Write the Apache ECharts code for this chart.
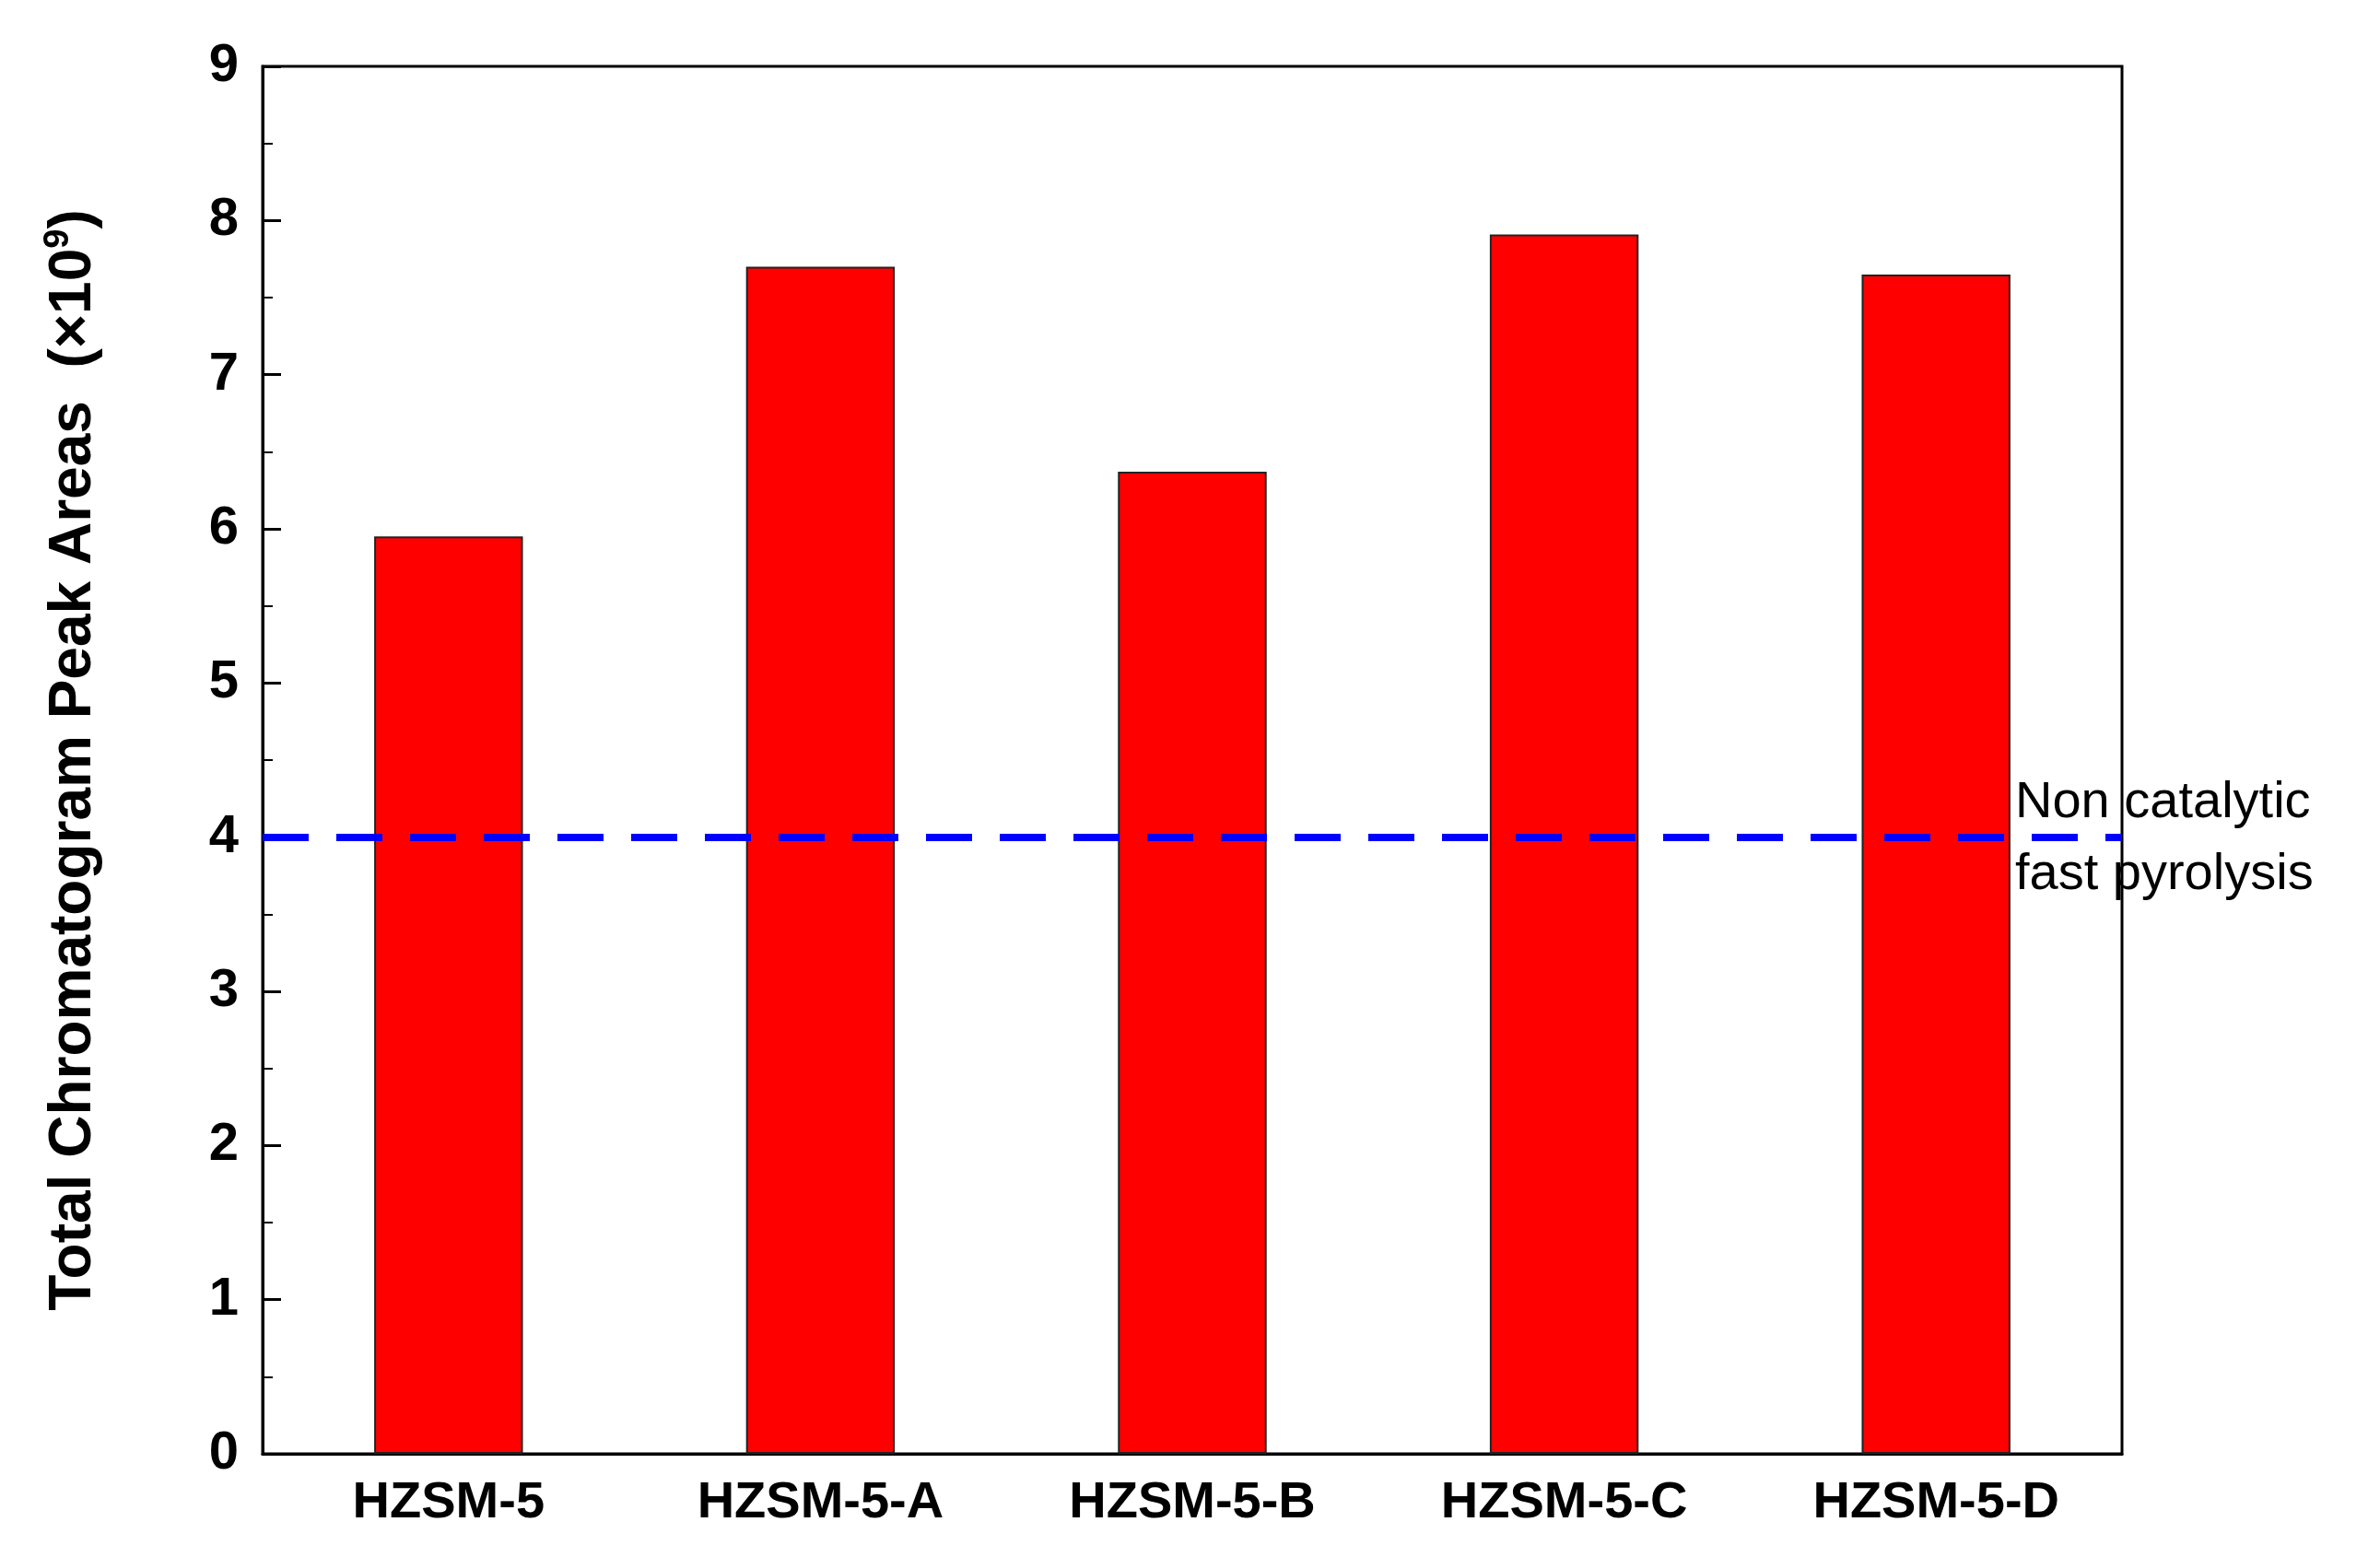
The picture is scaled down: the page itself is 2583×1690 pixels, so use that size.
<!DOCTYPE html>
<html><head><meta charset="utf-8">
<script src="https://cdn.jsdelivr.net/npm/echarts@6/dist/echarts.min.js"></script>
<style>html,body{margin:0;padding:0;background:#fff}#c{width:2583px;height:1690px}</style>
</head><body><div id="c"></div>
<script>
const categories = ['HZSM-5','HZSM-5-A','HZSM-5-B','HZSM-5-C','HZSM-5-D'];
const values = [5.95, 7.70, 6.37, 7.91, 7.65];
const baselineValue = 4;
const baselineLabel = 'Non catalytic\nfast pyrolysis';
const yTicks = [0,1,2,3,4,5,6,7,8,9];

const chart = echarts.init(document.getElementById('c'));
const font = 'Liberation Sans, Arial, sans-serif';
chart.setOption({
  animation:false,
  grid:{left:285,right:280,top:72,bottom:112,show:true,borderColor:'#000',borderWidth:3,backgroundColor:'transparent'},
  xAxis:{type:'category',data:categories,
    axisLine:{lineStyle:{color:'#000',width:3}},axisTick:{show:false},
    axisLabel:{color:'#000',fontSize:56,fontWeight:'bold',fontFamily:font,margin:26}},
  yAxis:{type:'value',min:0,max:9,interval:1,
    name:'{a|Total Chromatogram Peak Areas  (×10}{s|9}{a|)}',
    nameLocation:'middle',nameGap:170,nameRotate:90,
    nameTextStyle:{rich:{a:{fontSize:64,fontWeight:'bold',fontFamily:font,color:'#000'},s:{fontSize:38,fontWeight:'bold',fontFamily:font,color:'#000',verticalAlign:'top',padding:[0,0,32,0]}}},
    axisLine:{show:true,lineStyle:{color:'#000',width:3}},
    axisTick:{show:true,inside:true,length:20,lineStyle:{color:'#000',width:3}},
    minorTick:{show:true,splitNumber:2,length:11,lineStyle:{color:'#000',width:2}},
    splitLine:{show:false},
    axisLabel:{color:'#000',fontSize:58,fontWeight:'bold',fontFamily:font,margin:26,
      formatter:v=>yTicks.includes(v)?String(v):''}},
  series:[{type:'bar',data:values,barWidth:'40%',
    itemStyle:{color:'#ff0000',borderColor:'#222',borderWidth:2},
    markLine:{silent:true,symbol:'none',data:[{yAxis:baselineValue}],
      lineStyle:{color:'#0000ff',type:[50,30],width:8},
      label:{show:false}}}]
});
const p = chart.convertToPixel({xAxisIndex:0,yAxisIndex:0},[4,baselineValue]);
chart.setOption({graphic:[{type:'text',left:2187,top:p[1]-76,z:100,
  style:{text:baselineLabel,fontSize:56,lineHeight:78,fontFamily:font,fill:'#000'}}]});
</script></body></html>
